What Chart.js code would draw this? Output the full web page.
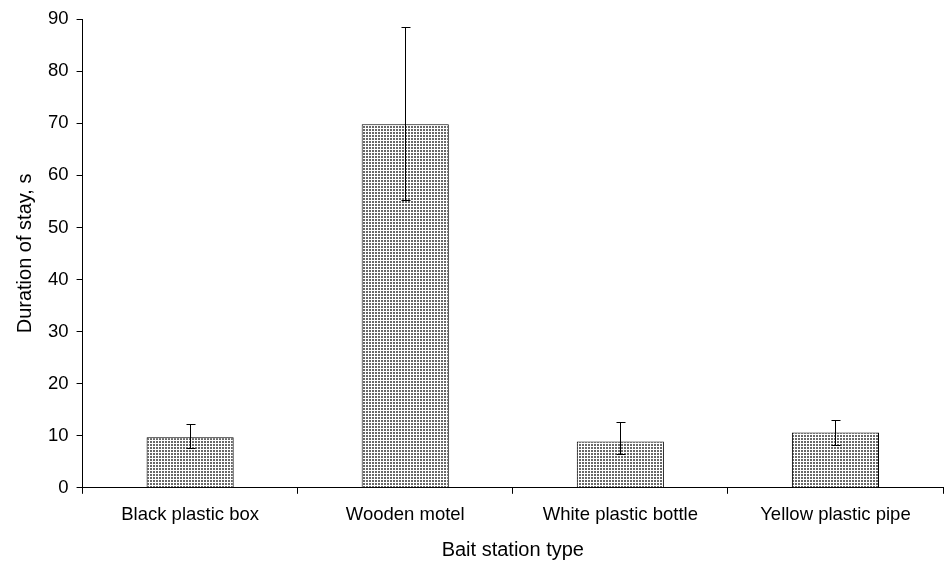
<!DOCTYPE html>
<html>
<head>
<meta charset="utf-8">
<script src="https://cdn.jsdelivr.net/npm/chart.js@4.4.1/dist/chart.umd.min.js"></script>
<style>
  html, body { margin: 0; padding: 0; background: #fff; }
  #wrap { width: 946px; height: 562px; position: relative; }
</style>
</head>
<body>
<div id="wrap"><canvas id="chart"></canvas></div>
<script>
// Mean duration per bait station, with lower/upper error limits
const stations = ['Black plastic box', 'Wooden motel', 'White plastic bottle', 'Yellow plastic pipe'];
const meanStay = [9.7, 69.8, 8.9, 10.6];
const errLow = [7.7, 55.2, 6.5, 8.3];
const errHigh = [12.2, 88.5, 12.6, 13.1];

// Stippled fill like the old spreadsheet pattern
function makeStipple() {
    const tile = document.createElement('canvas');
    tile.width = 3;
    tile.height = 3;
    const c = tile.getContext('2d');
    c.fillStyle = '#ffffff';
    c.fillRect(0, 0, 3, 3);
    c.fillStyle = '#686868';
    c.fillRect(0, 0, 2, 2);
    return document.getElementById('chart').getContext('2d').createPattern(tile, 'repeat');
}

// Error bars drawn through the y scale
const errorBars = {
    id: 'errorBars',
    afterDatasetsDraw(chart) {
        const ctx = chart.ctx;
        const y = chart.scales.y;
        const meta = chart.getDatasetMeta(0);
        ctx.save();
        ctx.strokeStyle = '#000';
        ctx.lineWidth = 1;
        meta.data.forEach((bar, i) => {
            const x = Math.round(bar.x) + 0.5;
            const top = Math.round(y.getPixelForValue(errHigh[i])) + 0.5;
            const bot = Math.round(y.getPixelForValue(errLow[i])) + 0.5;
            ctx.beginPath();
            ctx.moveTo(x, top);
            ctx.lineTo(x, bot);
            ctx.moveTo(x - 4, top);
            ctx.lineTo(x + 5, top);
            ctx.moveTo(x - 4, bot);
            ctx.lineTo(x + 5, bot);
            ctx.stroke();
        });
        ctx.restore();
    }
};

const family = '"Liberation Sans", Arial, sans-serif';
const tickFont = { family: family, size: 18.5 };
const titleFont = { family: family, size: 20 };

new Chart(document.getElementById('chart'), {
    type: 'bar',
    data: {
        labels: stations,
        datasets: [{
            data: meanStay,
            backgroundColor: makeStipple(),
            borderColor: '#000',
            borderWidth: 1,
            categoryPercentage: 1,
            barPercentage: 0.405
        }]
    },
    options: {
        responsive: true,
        maintainAspectRatio: false,
        animation: false,
        layout: { padding: { top: 19, right: 3, left: 13, bottom: 0 } },
        plugins: {
            legend: { display: false },
            tooltip: { enabled: false }
        },
        scales: {
            x: {
                grid: { drawOnChartArea: false, tickLength: 6, color: '#000', offset: true },
                border: { color: '#000' },
                ticks: { color: '#000', font: tickFont, padding: 10, maxRotation: 0 },
                title: { display: true, text: 'Bait station type', color: '#000', font: titleFont, padding: { top: 2, bottom: 0 } }
            },
            y: {
                min: 0,
                max: 90,
                grid: { drawOnChartArea: false, tickLength: 6, color: '#000' },
                border: { color: '#000' },
                ticks: { stepSize: 10, color: '#000', font: tickFont, padding: 8 },
                title: { display: true, text: 'Duration of stay, s', color: '#000', font: titleFont, padding: { top: 0, bottom: 3 } }
            }
        }
    },
    plugins: [errorBars]
});
</script>
</body>
</html>
